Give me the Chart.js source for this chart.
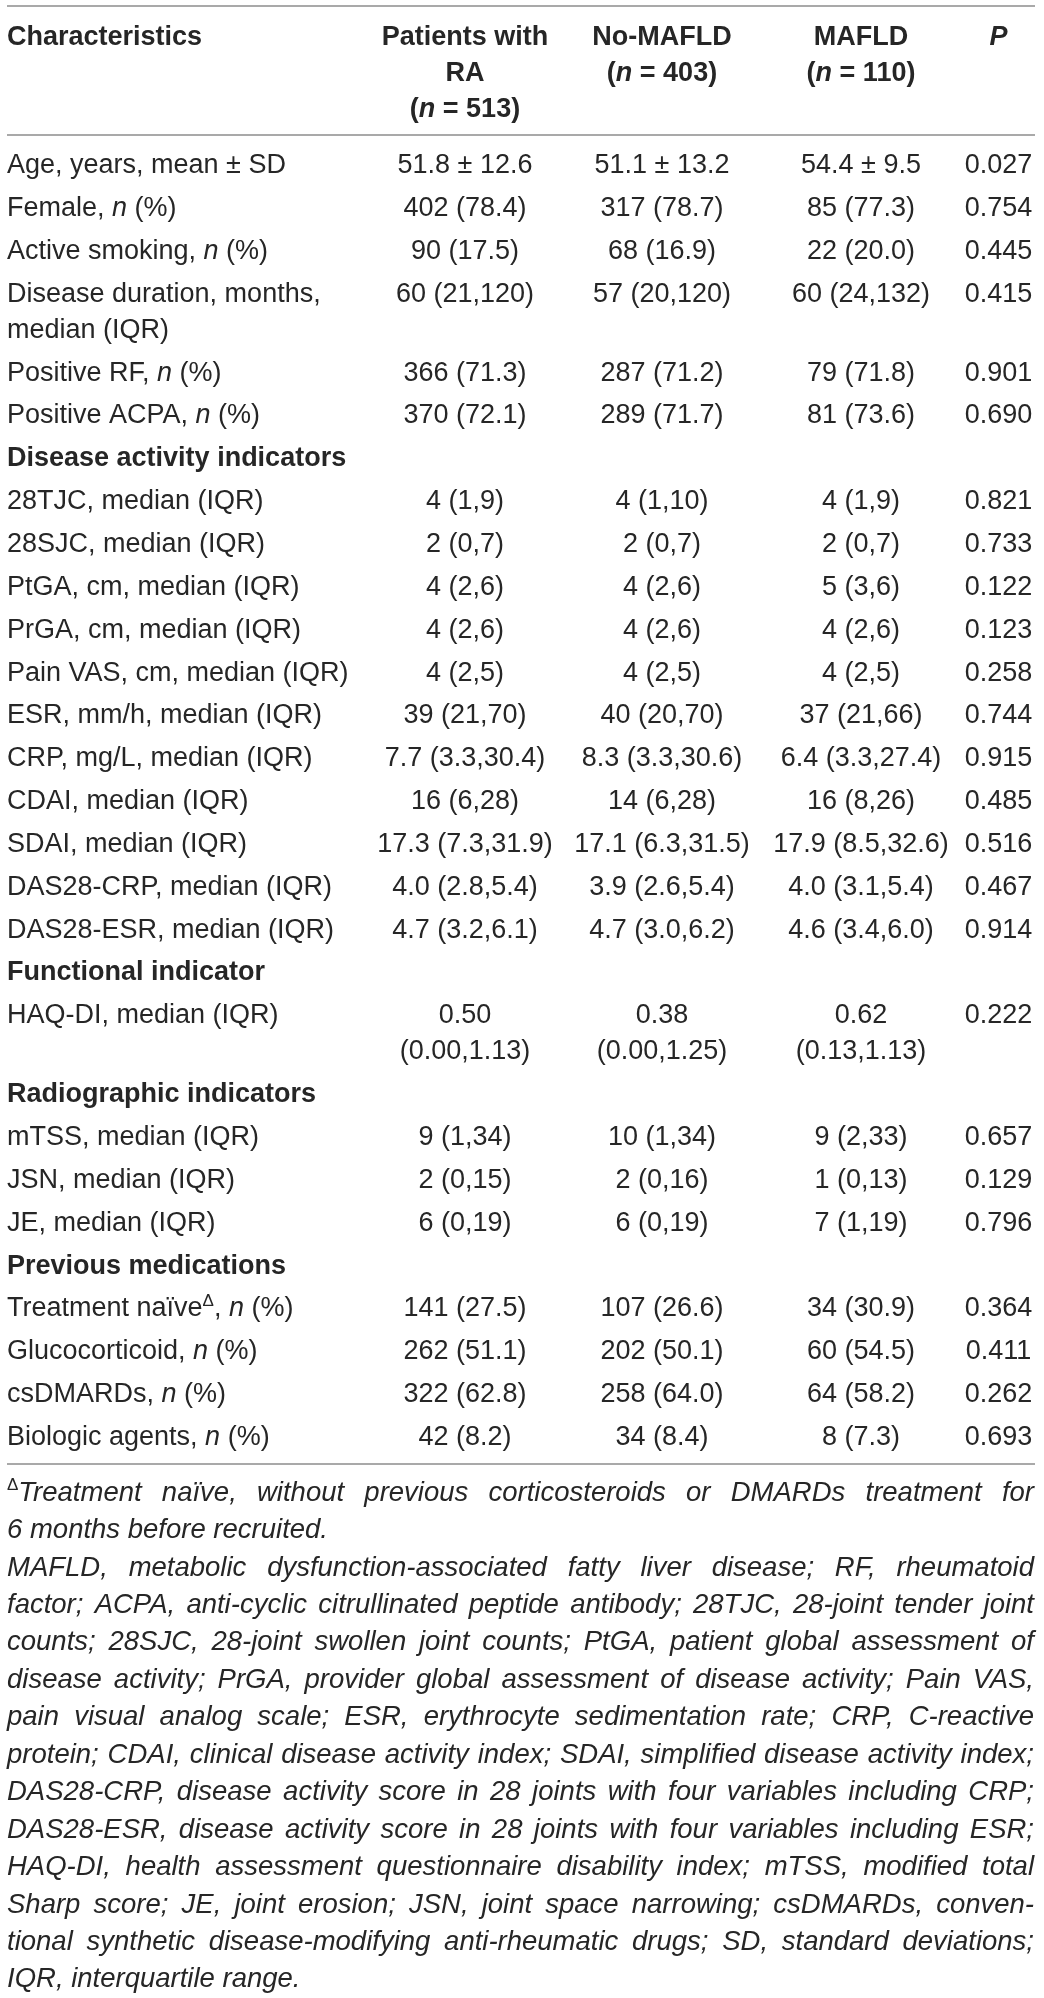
<!DOCTYPE html>
<html>
<head>
<meta charset="utf-8">
<style>
html,body{margin:0;padding:0;background:#fff;}
#wrap{width:1044px;height:1998px;position:relative;}
</style>
</head>
<body>
<div id="wrap"><canvas id="c"></canvas></div>
<script src="https://cdn.jsdelivr.net/npm/chart.js@4/dist/chart.umd.min.js"></script>
<script>
// ---------- DATA ----------
// Markup: *text* = italic run, ^text^ = superscript run, leading # = section heading
const columnHeaders = [
  "Characteristics",
  "Patients with\nRA\n(*n* = 513)",
  "No-MAFLD\n(*n* = 403)",
  "MAFLD\n(*n* = 110)",
  "*P*"
];

const categories = [
  "Age, years, mean ± SD",
  "Female, *n* (%)",
  "Active smoking, *n* (%)",
  "Disease duration, months,\nmedian (IQR)",
  "Positive RF, *n* (%)",
  "Positive ACPA, *n* (%)",
  "#Disease activity indicators",
  "28TJC, median (IQR)",
  "28SJC, median (IQR)",
  "PtGA, cm, median (IQR)",
  "PrGA, cm, median (IQR)",
  "Pain VAS, cm, median (IQR)",
  "ESR, mm/h, median (IQR)",
  "CRP, mg/L, median (IQR)",
  "CDAI, median (IQR)",
  "SDAI, median (IQR)",
  "DAS28-CRP, median (IQR)",
  "DAS28-ESR, median (IQR)",
  "#Functional indicator",
  "HAQ-DI, median (IQR)",
  "#Radiographic indicators",
  "mTSS, median (IQR)",
  "JSN, median (IQR)",
  "JE, median (IQR)",
  "#Previous medications",
  "Treatment naïve^Δ^, *n* (%)",
  "Glucocorticoid, *n* (%)",
  "csDMARDs, *n* (%)",
  "Biologic agents, *n* (%)"
];

const patientsRA = [
  "51.8 ± 12.6","402 (78.4)","90 (17.5)","60 (21,120)","366 (71.3)","370 (72.1)","",
  "4 (1,9)","2 (0,7)","4 (2,6)","4 (2,6)","4 (2,5)","39 (21,70)","7.7 (3.3,30.4)",
  "16 (6,28)","17.3 (7.3,31.9)","4.0 (2.8,5.4)","4.7 (3.2,6.1)","",
  "0.50\n(0.00,1.13)","","9 (1,34)","2 (0,15)","6 (0,19)","",
  "141 (27.5)","262 (51.1)","322 (62.8)","42 (8.2)"
];

const noMAFLD = [
  "51.1 ± 13.2","317 (78.7)","68 (16.9)","57 (20,120)","287 (71.2)","289 (71.7)","",
  "4 (1,10)","2 (0,7)","4 (2,6)","4 (2,6)","4 (2,5)","40 (20,70)","8.3 (3.3,30.6)",
  "14 (6,28)","17.1 (6.3,31.5)","3.9 (2.6,5.4)","4.7 (3.0,6.2)","",
  "0.38\n(0.00,1.25)","","10 (1,34)","2 (0,16)","6 (0,19)","",
  "107 (26.6)","202 (50.1)","258 (64.0)","34 (8.4)"
];

const withMAFLD = [
  "54.4 ± 9.5","85 (77.3)","22 (20.0)","60 (24,132)","79 (71.8)","81 (73.6)","",
  "4 (1,9)","2 (0,7)","5 (3,6)","4 (2,6)","4 (2,5)","37 (21,66)","6.4 (3.3,27.4)",
  "16 (8,26)","17.9 (8.5,32.6)","4.0 (3.1,5.4)","4.6 (3.4,6.0)","",
  "0.62\n(0.13,1.13)","","9 (2,33)","1 (0,13)","7 (1,19)","",
  "34 (30.9)","60 (54.5)","64 (58.2)","8 (7.3)"
];

const pValues = [
  "0.027","0.754","0.445","0.415","0.901","0.690","",
  "0.821","0.733","0.122","0.123","0.258","0.744","0.915",
  "0.485","0.516","0.467","0.914","",
  "0.222","","0.657","0.129","0.796","",
  "0.364","0.411","0.262","0.693"
];

const footnoteLines = [
  "^Δ^Treatment naïve, without previous corticosteroids or DMARDs treatment for",
  "6 months before recruited.",
  "MAFLD, metabolic dysfunction-associated fatty liver disease; RF, rheumatoid",
  "factor; ACPA, anti-cyclic citrullinated peptide antibody; 28TJC, 28-joint tender joint",
  "counts; 28SJC, 28-joint swollen joint counts; PtGA, patient global assessment of",
  "disease activity; PrGA, provider global assessment of disease activity; Pain VAS,",
  "pain visual analog scale; ESR, erythrocyte sedimentation rate; CRP, C-reactive",
  "protein; CDAI, clinical disease activity index; SDAI, simplified disease activity index;",
  "DAS28-CRP, disease activity score in 28 joints with four variables including CRP;",
  "DAS28-ESR, disease activity score in 28 joints with four variables including ESR;",
  "HAQ-DI, health assessment questionnaire disability index; mTSS, modified total",
  "Sharp score; JE, joint erosion; JSN, joint space narrowing; csDMARDs, conven-",
  "tional synthetic disease-modifying anti-rheumatic drugs; SD, standard deviations;",
  "IQR, interquartile range."
];
const footnoteJustify = [true,false,true,true,true,true,true,true,true,true,true,true,true,false];

// ---------- LAYOUT / STYLE ----------
const PAGE_H = 1998;
const ROW_PX = 42.85;          // pixels per row unit on the y scale
const FIRST_ROW_PX = 163.5;    // pixel of row unit 0
const LINE_GAP = 0.84;         // extra line inside a cell (row units)
const HEADER_TOP = -3;         // first header line (row units)
const RULE_PAD = 0.665;        // rule distance from nearest text line
const FOOT_OFFSET = 0.63;      // first footnote line below bottom rule
const FOOT_GAP = 0.874;        // footnote line step
const COL_WIDTHS = [359, 198, 196, 202, 73];
const TABLE_W = COL_WIDTHS.reduce((a,b)=>a+b,0);
const FAMILY = '"Liberation Sans", Arial, Helvetica, sans-serif';
const BODY_SIZE = 27;
const FOOT_SIZE = 27.5;
const TEXT_COLOR = '#262626';
const RULE_COLOR = '#a9a9a9';

function colCenter(i){
  let s = 0; for (let k=0;k<i;k++) s += COL_WIDTHS[k];
  return i === 0 ? 0 : s + COL_WIDTHS[i]/2;
}
const valueColumns = [patientsRA, noMAFLD, withMAFLD, pValues];
const lineCount = s => s ? s.split('\n').length : 1;

// row positions derived from content line counts
const rowY = [];
(function(){
  let y = 0;
  categories.forEach((c,k)=>{
    rowY.push(y);
    const n = Math.max(lineCount(c), ...valueColumns.map(col=>lineCount(col[k])));
    y += 1 + LINE_GAP*(n-1);
  });
})();
const lastLines = Math.max(lineCount(categories[categories.length-1]), ...valueColumns.map(c=>lineCount(c[c.length-1])));
const topRule = HEADER_TOP - RULE_PAD;
const headRule = -RULE_PAD;
const bottomRule = rowY[rowY.length-1] + LINE_GAP*(lastLines-1) + RULE_PAD;

// ---------- RICH TEXT ----------
function parseRuns(s){
  const runs=[]; let it=false, sup=false, buf='';
  for (const ch of s){
    if (ch==='*' || ch==='^'){
      if (buf) runs.push({t:buf,it,sup});
      buf='';
      if (ch==='*') it=!it; else sup=!sup;
    } else buf+=ch;
  }
  if (buf) runs.push({t:buf,it,sup});
  return runs;
}
function fontFor(run, base){
  const size = run.sup ? Math.round(base.size*0.62) : base.size;
  const italic = run.sup ? false : (base.italic ? !run.it : run.it);
  return (italic?'italic ':'') + (base.bold?'bold ':'') + size + 'px ' + FAMILY;
}
function measureRich(ctx, s, base){
  let w=0;
  for (const r of parseRuns(s)){ ctx.font = fontFor(r, base); w += ctx.measureText(r.t).width; }
  return w;
}
function drawRich(ctx, s, x, cy, align, base){
  const runs = parseRuns(s);
  const total = measureRich(ctx, s, base);
  let cx = align==='center' ? x - total/2 : (align==='right' ? x - total : x);
  const baseline = cy + base.size*0.358;
  for (const r of runs){
    ctx.font = fontFor(r, base);
    const y = r.sup ? baseline - base.size*0.40 : baseline;
    ctx.fillText(r.t, cx, y);
    cx += ctx.measureText(r.t).width;
  }
}

// ---------- PLUGIN ----------
const tablePlugin = {
  id: 'tableText',
  afterDatasetsDraw(chart){
    const ctx = chart.ctx, xs = chart.scales.x, ys = chart.scales.y;
    const unitPx = Math.abs(ys.getPixelForValue(1) - ys.getPixelForValue(0));
    ctx.save();
    ctx.textBaseline = 'alphabetic';
    ctx.textAlign = 'left';
    ctx.fillStyle = TEXT_COLOR;

    // rules
    ctx.strokeStyle = RULE_COLOR; ctx.lineWidth = 2;
    [topRule, headRule, bottomRule].forEach(v=>{
      const py = Math.round(ys.getPixelForValue(v));
      ctx.beginPath();
      ctx.moveTo(xs.getPixelForValue(0), py);
      ctx.lineTo(xs.getPixelForValue(TABLE_W), py);
      ctx.stroke();
    });

    // header
    columnHeaders.forEach((h,i)=>{
      h.split('\n').forEach((ln,j)=>{
        drawRich(ctx, ln, xs.getPixelForValue(colCenter(i)),
          ys.getPixelForValue(HEADER_TOP + j*LINE_GAP),
          i===0 ? 'left' : 'center', {size:BODY_SIZE, bold:true});
      });
    });

    // body cells, positioned by the dataset elements
    chart.data.datasets.forEach((ds,di)=>{
      const meta = chart.getDatasetMeta(di);
      meta.data.forEach((pt,k)=>{
        let txt = ds.cellText[k];
        if (!txt) return;
        let bold = false;
        if (txt[0]==='#'){ bold = true; txt = txt.slice(1); }
        txt.split('\n').forEach((ln,j)=>{
          drawRich(ctx, ln, pt.x, pt.y + j*LINE_GAP*unitPx,
            di===0 ? 'left' : 'center', {size:BODY_SIZE, bold});
        });
      });
    });

    // footnotes (justified)
    const left = xs.getPixelForValue(0);
    const right = xs.getPixelForValue(TABLE_W) - 1;
    const base = {size:FOOT_SIZE, italic:true};
    footnoteLines.forEach((line,j)=>{
      const cy = ys.getPixelForValue(bottomRule + FOOT_OFFSET + j*FOOT_GAP);
      const words = line.split(' ');
      const widths = words.map(w=>measureRich(ctx, w, base));
      const sum = widths.reduce((a,b)=>a+b,0);
      ctx.font = fontFor({t:' '}, base);
      let gap = ctx.measureText(' ').width;
      if (footnoteJustify[j] && words.length>1) gap = (right - left - sum)/(words.length-1);
      let cx = left;
      words.forEach((w,i)=>{
        drawRich(ctx, w, cx, cy, 'left', base);
        cx += widths[i] + gap;
      });
    });
    ctx.restore();
  }
};

// ---------- CHART ----------
const allColumns = [categories, ...valueColumns];
const datasets = allColumns.map((col,i)=>({
  label: columnHeaders[i],
  data: col.map((_,k)=>({x: colCenter(i), y: rowY[k]})),
  cellText: col,
  pointRadius: 0,
  pointHoverRadius: 0,
  showLine: false
}));

const yMin = -FIRST_ROW_PX/ROW_PX;
const yMax = yMin + PAGE_H/ROW_PX;

new Chart(document.getElementById('c'), {
  type: 'scatter',
  data: { datasets },
  options: {
    responsive: true,
    maintainAspectRatio: false,
    animation: false,
    events: [],
    layout: { padding: { left: 7, right: 1044 - 7 - TABLE_W, top: 0, bottom: 0 } },
    plugins: { legend: { display: false }, tooltip: { enabled: false } },
    scales: {
      x: { type: 'linear', display: false, min: 0, max: TABLE_W },
      y: { type: 'linear', display: false, reverse: true, min: yMin, max: yMax }
    }
  },
  plugins: [tablePlugin]
});
</script>
</body>
</html>
